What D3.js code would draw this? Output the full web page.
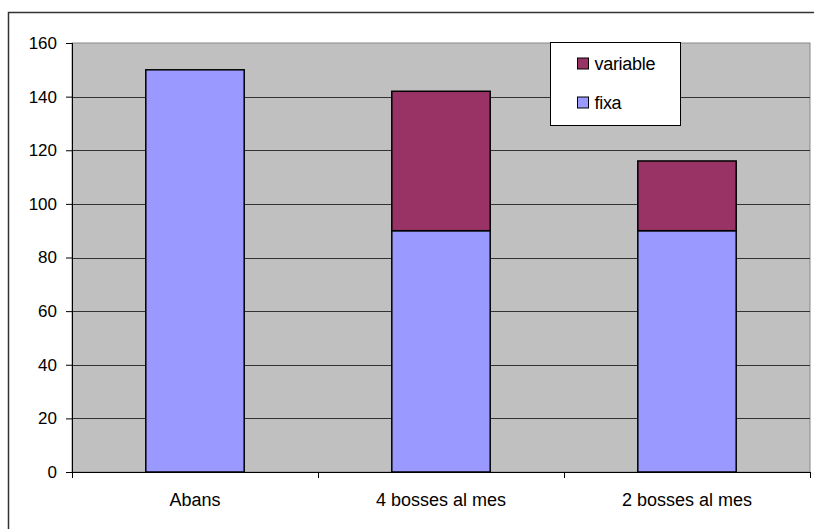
<!DOCTYPE html>
<html>
<head>
<meta charset="utf-8">
<script src="https://cdn.jsdelivr.net/npm/d3@7"></script>
<style>
  body { margin: 0; background: #fff; }
  text { font-family: "Liberation Sans", Arial, sans-serif; }
</style>
</head>
<body>
<div class="chart"></div>
<script>
// Data
var categories = ["Abans", "4 bosses al mes", "2 bosses al mes"];
var fixa = [150, 90, 90];
var variable = [0, 52, 26];
var yTicks = [0, 20, 40, 60, 80, 100, 120, 140, 160];

var svgWidth = 814;
var svgHeight = 529;

var margin = { top: 43, right: 4, bottom: 57, left: 72 };
var width = svgWidth - margin.left - margin.right;
var height = svgHeight - margin.top - margin.bottom;

var svg = d3.select(".chart")
  .append("svg")
  .attr("width", svgWidth)
  .attr("height", svgHeight);

// outer chart frame (only top and left visible)
svg.append("rect")
  .attr("x", 8.5).attr("y", 12.5)
  .attr("width", 900).attr("height", 600)
  .attr("fill", "none")
  .attr("stroke", "#333")
  .attr("stroke-width", 1.5);

var chartGroup = svg.append("g")
  .attr("transform", `translate(${margin.left}, ${margin.top})`);

var x = d3.scaleBand()
  .domain(categories)
  .range([0, width])
  .paddingInner(0.6)
  .paddingOuter(0.3);

var y = d3.scaleLinear()
  .domain([0, 160])
  .range([height, 0]);

// plot background
chartGroup.append("rect")
  .attr("width", width).attr("height", height)
  .attr("fill", "#c0c0c0")
  .attr("stroke", "#888")
  .attr("stroke-width", 1);

// gridlines
chartGroup.selectAll(".grid")
  .data(yTicks.filter(d => d > 0 && d < 160))
  .enter().append("line")
  .attr("x1", 0).attr("x2", width)
  .attr("y1", d => Math.round(y(d)) + 0.5)
  .attr("y2", d => Math.round(y(d)) + 0.5)
  .attr("stroke", "#333")
  .attr("stroke-width", 1);

// stacked bars
var rows = categories.map((c, i) => ({ cat: c, fixa: fixa[i], variable: variable[i] }));
var stack = d3.stack().keys(["fixa", "variable"])(rows);
var colors = { fixa: "#9999ff", variable: "#993366" };

chartGroup.selectAll(".series")
  .data(stack)
  .enter().append("g")
  .attr("fill", d => colors[d.key])
  .selectAll("rect")
  .data(d => d.filter(p => p[1] > p[0]))
  .enter().append("rect")
  .attr("x", d => x(d.data.cat))
  .attr("y", d => y(d[1]))
  .attr("width", x.bandwidth())
  .attr("height", d => y(d[0]) - y(d[1]))
  .attr("stroke", "#000")
  .attr("stroke-width", 1.5);

// axes
var leftAxis = d3.axisLeft(y).tickValues(yTicks).tickSize(6).tickPadding(9);
var yAxis = chartGroup.append("g").call(leftAxis);
yAxis.select(".domain").attr("stroke", "#000").attr("d", `M0.5,${height}V0`);
yAxis.selectAll(".tick line").attr("stroke", "#000");
yAxis.selectAll("text").attr("font-size", "17px").attr("fill", "#000");

var bottomAxis = d3.axisBottom(x).tickSize(0).tickPadding(21);
var xAxis = chartGroup.append("g")
  .attr("transform", `translate(0, ${height})`)
  .call(bottomAxis);
xAxis.select(".domain").attr("stroke", "#000").attr("d", `M0,0.5H${width}`);
xAxis.selectAll("text").attr("font-size", "18px").attr("fill", "#000");

// category boundary ticks
var step = x.step();
chartGroup.selectAll(".xtick")
  .data(d3.range(categories.length + 1))
  .enter().append("line")
  .attr("x1", d => Math.round(d * step) + 0.5)
  .attr("x2", d => Math.round(d * step) + 0.5)
  .attr("y1", height).attr("y2", height + 6)
  .attr("stroke", "#000");

// legend
var legend = svg.append("g").attr("transform", "translate(550.5, 42.5)");
legend.append("rect")
  .attr("width", 130).attr("height", 83)
  .attr("fill", "#fff")
  .attr("stroke", "#000");

var legendItems = [
  { key: "variable", y: 21 },
  { key: "fixa", y: 60 }
];
legendItems.forEach(function(d) {
  legend.append("rect")
    .attr("x", 27).attr("y", d.y - 5.5)
    .attr("width", 11).attr("height", 11)
    .attr("fill", colors[d.key])
    .attr("stroke", "#000");
  legend.append("text")
    .attr("x", 44).attr("y", d.y + 6)
    .attr("font-size", "18px")
    .attr("letter-spacing", "-0.3px")
    .text(d.key);
});
</script>
</body>
</html>
